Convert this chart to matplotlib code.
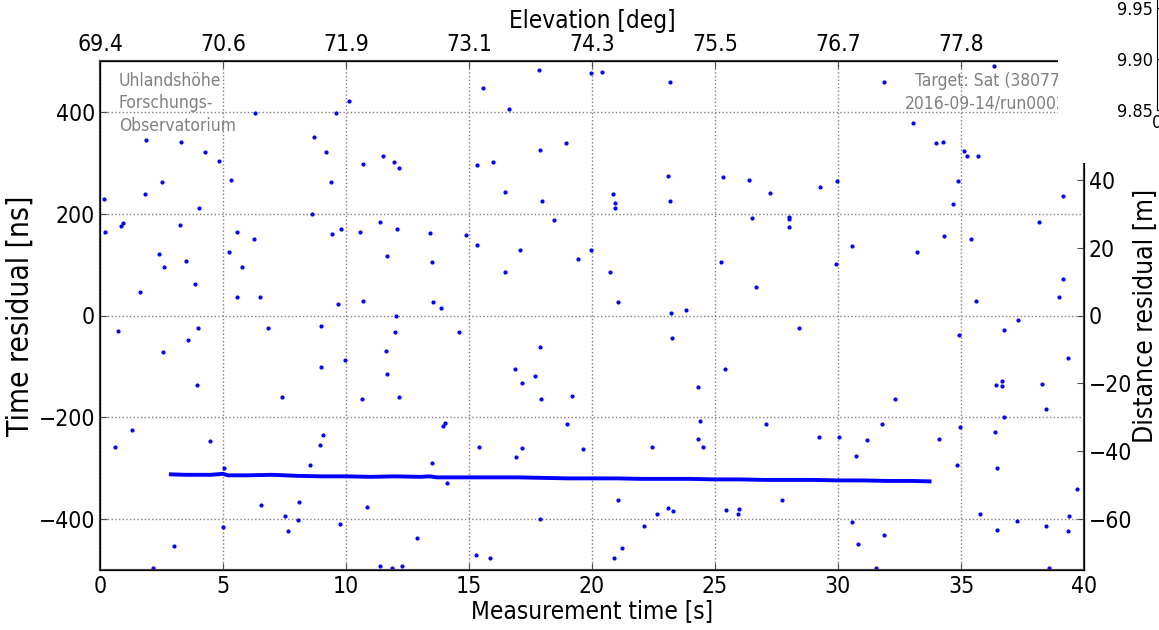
import matplotlib
matplotlib.use("Agg")
import matplotlib.pyplot as plt
from matplotlib.patches import Rectangle

# scattered returns (time [s], residual [ns])
noise_t = [0.16, 0.2, 1.85, 3.29, 4.28, 4.82, 5.31, 6.31, 2.53, 1.84, 4.01, 0.84, 0.92, 3.25,
           2.38, 2.59, 3.48, 3.86, 1.62, 0.74, 3.97, 3.57, 2.57, 3.94, 1.30, 0.62, 4.49, 5.05,
           2.99, 2.17, 5.02, 5.56, 5.23, 5.77, 6.27, 5.56, 6.51, 6.84, 7.39, 6.55, 7.54, 7.66,
           8.08, 8.04, 8.55, 8.93, 9.06, 8.97, 8.97, 9.95, 9.69, 9.43, 9.81, 8.61, 9.37, 8.68,
           9.19, 9.58, 10.14, 10.68, 11.51, 11.97, 12.14, 10.57, 11.38, 12.07, 11.65, 10.68,
           13.54, 13.87, 12.03, 11.98, 11.61, 11.65, 10.67, 12.17, 9.77, 10.87, 12.87, 11.40,
           11.87, 12.29, 13.43, 13.51, 14.58, 13.94, 14.02, 13.50, 14.12, 14.86, 15.32, 15.34,
           15.96, 15.58, 16.61, 17.84, 19.97, 16.46, 17.87, 17.96, 18.96, 18.44, 17.07, 16.45,
           19.44, 19.94, 17.87, 16.85, 17.68, 17.15, 17.92, 19.18, 19.00, 15.42, 17.15, 16.91,
           19.64, 17.90, 15.28, 15.86,
           20.39, 23.17, 23.10, 23.16, 20.85, 20.92, 20.92, 20.72, 21.04, 23.22, 23.25, 23.83,
           24.31, 24.38, 24.32, 24.51, 22.45, 21.06, 21.22, 20.91, 22.11, 22.66, 23.10, 23.29,
           25.33, 26.38, 27.25, 26.52, 27.99, 27.99, 27.99, 25.24, 26.68, 28.40, 25.42, 27.07,
           25.45, 25.92, 25.99, 27.71, 29.28, 29.96, 29.92, 30.56, 29.21, 30.05, 31.19, 31.80,
           30.72, 32.30, 30.56, 30.80, 31.86, 31.53, 31.87, 33.05, 34.00, 34.27, 35.14, 35.24,
           35.68, 36.35, 34.86, 34.69, 34.30, 33.21, 35.39, 35.60, 34.90, 34.96, 34.11, 34.82,
           35.76, 36.45, 36.39, 36.41, 36.65, 36.67, 36.76, 36.73, 37.33, 36.46, 37.29, 38.18,
           38.28, 38.44, 38.46, 38.56, 39.13, 39.15, 39.00, 39.34, 39.73, 39.39, 39.35]
noise_ns = [229, 164, 344, 340, 322, 303, 266, 398, 263, 239, 211, 176, 182, 177,
            120, 95, 107, 61, 46, -30, -24, -48, -71, -137, -224, -258, -246, -299,
            -452, -497, -416, 164, 124, 96, 151, 37, 37, -25, -161, -373, -394, -423,
            -367, -401, -293, -255, -235, -101, -20, -87, 23, 161, 169, 200, 262, 351,
            321, 397, 422, 297, 313, 302, 289, 165, 184, 169, 117, 29,
            27, 14, -1, -33, -70, -115, -164, -161, -409, -376, -437, -493,
            -497, -492, 162, 105, -33, -218, -212, -289, -330, 158, 138, 295,
            302, 446, 405, 482, 477, 242, 325, 225, 338, 188, 129, 86,
            111, 128, -62, -105, -118, -133, -164, -158, -214, -259, -261, -278,
            -263, -399, -471, -477,
            478, 459, 275, 225, 239, 222, 212, 86, 27, 4, -44, 10,
            -140, -207, -242, -258, -259, -363, -457, -476, -414, -390, -378, -384,
            272, 267, 241, 192, 194, 190, 173, 105, 56, -24, -105, -213,
            -382, -389, -380, -363, 253, 264, 101, 137, -238, -238, -244, -213,
            -276, -165, -405, -448, -431, -497, 458, 378, 339, 340, 323, 314,
            313, 491, 264, 219, 156, 124, 150, 29, -39, -219, -242, -294,
            -390, -300, -229, -137, -139, -128, -199, -28, -8, -422, -403, 184,
            -134, -184, -414, -497, 235, 71, 37, -83, -341, -393, -424]

# satellite track (dense returns)
band_t = [2.8, 3.5, 4.5, 5.0, 5.2, 6.0, 7.0, 8.0, 9.0, 10.0, 11.0, 12.0, 13.0, 13.4, 13.7,
          15.0, 16.0, 17.0, 18.0, 19.0, 20.0, 21.0, 22.0, 23.0, 24.0, 25.0, 26.0, 27.0,
          28.0, 29.0, 30.0, 31.0, 32.0, 33.0, 33.8]
band_ns = [-312, -313, -313, -311, -314, -314, -313, -315, -316, -316, -317, -316, -317,
           -316, -318, -318, -318, -318, -319, -320, -320, -320, -321, -321, -321, -322,
           -322, -323, -323, -323, -324, -324, -325, -325, -326]

elev_ticks = [0, 5, 10, 15, 20, 25, 30, 35]
elev_labels = ["69.4", "70.6", "71.9", "73.1", "74.3", "75.5", "76.7", "77.8"]

plt.rcParams["font.family"] = "DejaVu Sans"
plt.rcParams["font.stretch"] = "condensed"

W, H = 1159, 630
fig = plt.figure(figsize=(W / 100, H / 100), dpi=100)
ax = fig.add_axes([100 / W, 60 / H, 984 / W, 509 / H])

ax.plot(band_t, band_ns, color="#0000ff", lw=2.8, solid_capstyle="butt", zorder=3)
ax.plot(noise_t, noise_ns, ".", color="#0000ff", ms=4, zorder=3)

ax.set_xlim(0, 40)
ax.set_ylim(-500, 500)
ax.set_xticks(range(0, 41, 5))
ax.set_yticks([-400, -200, 0, 200, 400])
ax.grid(True, color="0.5", linestyle=":", lw=1)
ax.tick_params(direction="in", labelsize=16.5, length=5, color="0.3")
ax.set_xlabel("Measurement time [s]", fontsize=17.5, labelpad=1)
ax.set_ylabel("Time residual [ns]", fontsize=21.5, labelpad=3)
for s in ax.spines.values():
    s.set_color("0.25")
    s.set_linewidth(1.5)

# distance axis
ax2 = ax.twinx()
ax2.set_ylim(-500 * 0.1499, 500 * 0.1499)
ax2.set_yticks([-60, -40, -20, 0, 20, 40])
ax2.tick_params(direction="in", labelsize=16.5, length=5, color="0.3")
ax2.set_ylabel("Distance residual [m]", fontsize=19)
ax2.yaxis.set_label_coords(1.05, 0.5)
for s in ax2.spines.values():
    s.set_color("0.25")
    s.set_linewidth(1.5)

# elevation axis
ax3 = ax.twiny()
ax3.set_xlim(0, 40)
ax3.set_xticks(elev_ticks)
ax3.set_xticklabels(elev_labels)
ax3.tick_params(direction="in", labelsize=16.5, length=5, color="0.3")
ax3.set_xlabel("Elevation [deg]", fontsize=17.5, labelpad=4)

ax.text(0.019, 0.978, "Uhlandshöhe\nForschungs-\nObservatorium", transform=ax.transAxes,
        ha="left", va="top", fontsize=12.5, color="0.5", linespacing=1.3)
ax.text(0.828, 0.978, "Target: Sat (38077)", transform=ax.transAxes,
        ha="left", va="top", fontsize=12.5, color="0.5")
ax.text(0.818, 0.934, "2016-09-14/run0002", transform=ax.transAxes,
        ha="left", va="top", fontsize=12.5, color="0.5")

# piece of a neighbouring panel sticking in at the upper right
fig.patches.append(Rectangle((1058 / W, 1 - 163 / H), (W - 1058) / W, 163 / H,
                             transform=fig.transFigure, facecolor="white",
                             edgecolor="none", zorder=1))
ax4 = fig.add_axes([1157 / W, 1 - 110 / H, 0.3, 150 / H], zorder=2)
ax4.set_ylim(9.85, 9.85 + 0.05 * 150 / 51)
ax4.set_xlim(0, 1)
ax4.set_yticks([9.85, 9.90, 9.95])
ax4.set_yticklabels(["9.85", "9.90", "9.95"])
ax4.set_xticks([0])
ax4.tick_params(direction="in", labelsize=13, length=4, pad=3)

fig.savefig("out.png", dpi=100)
